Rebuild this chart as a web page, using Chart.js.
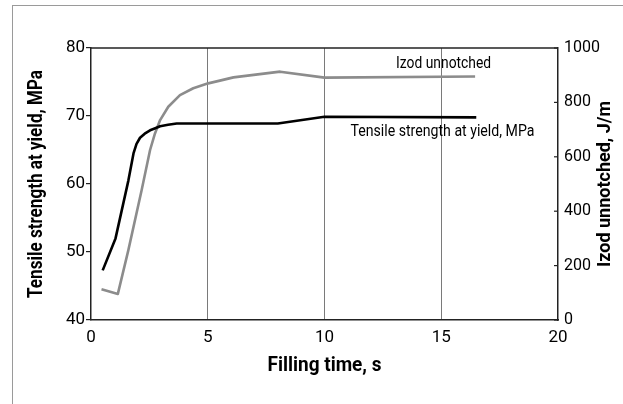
<!DOCTYPE html>
<html>
<head>
<meta charset="utf-8">
<script src="https://cdn.jsdelivr.net/npm/chart.js@4.4.0/dist/chart.umd.min.js"></script>
<style>
  html, body { margin: 0; padding: 0; background: #fff; }
  #wrap { position: relative; width: 623px; height: 404px; overflow: hidden; }
  #frame { position: absolute; left: 12px; top: 5px; width: 700px; height: 500px;
           border-top: 1.5px solid #9a9a9a; border-left: 1.5px solid #9a9a9a; }
  canvas { position: absolute; left: 0; top: 0; }
</style>
</head>
<body>
<div id="wrap">
  <div id="frame"></div>
  <canvas id="c" width="623" height="404"></canvas>
</div>
<script>
// ---- Data ----
const tensileTime = [0.5, 1.05, 1.6, 1.82, 1.95, 2.1, 2.3, 2.53, 2.75, 2.96, 3.3, 3.67, 4.2, 8.0, 10.0, 16.5];
const tensileMPa  = [47.3, 52.0, 60.5, 64.5, 65.9, 66.8, 67.4, 67.9, 68.2, 68.5, 68.7, 68.9, 68.9, 68.9, 69.9, 69.8];

const izodTime = [0.45, 1.15, 1.6, 2.17, 2.53, 2.74, 2.96, 3.31, 3.81, 4.38, 5.02, 5.52, 6.1, 8.1, 10.0, 16.45];
const izodJm   = [113, 96, 257, 478, 625, 686, 735, 784, 827, 852, 870, 880, 892, 913, 891, 895];

const xTicks = [0, 5, 10, 15, 20];
const leftTicks = [40, 50, 60, 70, 80];
const rightTicks = [0, 200, 400, 600, 800, 1000];

const xTitle = "Filling time, s";
const leftTitle = "Tensile strength at yield, MPa";
const rightTitle = "Izod unnotched, J/m";
const izodLabel = "Izod unnotched";
const tensileLabel = "Tensile strength at yield, MPa";

const FONT = "Roboto, 'Liberation Sans', sans-serif";

const tensileData = tensileTime.map((t, i) => ({ x: t, y: tensileMPa[i] }));
const izodData = izodTime.map((t, i) => ({ x: t, y: izodJm[i] }));

function condensed(ctx, text, x, y, maxW) {
  const w = ctx.measureText(text).width;
  ctx.fillText(text, x, y, Math.min(w, maxW));
}

const decor = {
  id: 'decor',
  afterDraw(chart) {
    const ctx = chart.ctx;
    const a = chart.chartArea;
    const xs = chart.scales.x, yl = chart.scales.y, yr = chart.scales.y2;
    ctx.save();
    // top frame line
    ctx.strokeStyle = '#222';
    ctx.lineWidth = 1.5;
    ctx.beginPath();
    ctx.moveTo(a.left, a.top);
    ctx.lineTo(a.right, a.top);
    ctx.stroke();
    // inward ticks on right axis
    ctx.lineWidth = 1.2;
    rightTicks.forEach(v => {
      const py = yr.getPixelForValue(v);
      ctx.beginPath();
      ctx.moveTo(a.right - 4, py);
      ctx.lineTo(a.right, py);
      ctx.stroke();
    });
    // axis titles
    ctx.fillStyle = '#000';
    ctx.font = "bold 20px " + FONT;
    ctx.textAlign = 'center';
    ctx.textBaseline = 'middle';
    condensed(ctx, xTitle, (a.left + a.right) / 2, 366, 114);
    ctx.save();
    ctx.translate(37, (a.top + a.bottom) / 2);
    ctx.rotate(-Math.PI / 2);
    condensed(ctx, leftTitle, 0, 0, 228);
    ctx.restore();
    ctx.save();
    ctx.translate(605, (a.top + a.bottom) / 2);
    ctx.rotate(-Math.PI / 2);
    ctx.font = "bold 19px " + FONT;
    condensed(ctx, rightTitle, 0, 0, 166);
    ctx.restore();
    // in-plot series labels
    ctx.font = "16px " + FONT;
    condensed(ctx, izodLabel, xs.getPixelForValue(15.1), yr.getPixelForValue(940), 95);
    condensed(ctx, tensileLabel, xs.getPixelForValue(15.05), yl.getPixelForValue(67.6), 184);
    ctx.restore();
  }
};

new Chart(document.getElementById('c'), {
  type: 'line',
  data: {
    datasets: [
      { label: 'Tensile', data: tensileData, yAxisID: 'y', borderColor: '#000', borderWidth: 2.6,
        pointRadius: 0, tension: 0, fill: false, borderJoinStyle: 'round' },
      { label: 'Izod', data: izodData, yAxisID: 'y2', borderColor: '#8c8c8c', borderWidth: 2.6,
        pointRadius: 0, tension: 0, fill: false, borderJoinStyle: 'round' }
    ]
  },
  options: {
    responsive: false,
    animation: false,
    devicePixelRatio: 1,
    layout: { padding: { top: 48, left: 0, right: 0, bottom: 0 } },
    plugins: { legend: { display: false }, tooltip: { enabled: false } },
    scales: {
      x: {
        type: 'linear', min: 0, max: 20,
        afterBuildTicks: s => { s.ticks = xTicks.map(v => ({ value: v })); },
        afterFit: s => { s.height = 84; },
        border: { display: true, color: '#222', width: 1.5 },
        grid: {
          drawTicks: false,
          color: c => (c.tick && (c.tick.value === 0 || c.tick.value === 20)) ? 'rgba(0,0,0,0)' : '#7a7a7a',
          lineWidth: 1
        },
        ticks: { color: '#000', font: { family: FONT, size: 17 }, padding: 8, maxRotation: 0,
                 callback: v => String(v) }
      },
      y: {
        type: 'linear', position: 'left', min: 40, max: 80,
        afterBuildTicks: s => { s.ticks = leftTicks.map(v => ({ value: v })); },
        afterFit: s => { s.width = 91; },
        border: { display: true, color: '#222', width: 1.5 },
        grid: { drawOnChartArea: false, drawTicks: true, tickLength: 5, color: '#222', lineWidth: 1.2 },
        ticks: { color: '#000', font: { family: FONT, size: 17 }, padding: 1, callback: v => String(v) }
      },
      y2: {
        type: 'linear', position: 'right', min: 0, max: 1000,
        afterBuildTicks: s => { s.ticks = rightTicks.map(v => ({ value: v })); },
        afterFit: s => { s.width = 65; },
        border: { display: true, color: '#222', width: 1.5 },
        grid: { drawOnChartArea: false, drawTicks: false },
        ticks: { color: '#000', font: { family: FONT, size: 16 }, padding: 6, callback: v => String(v) }
      }
    }
  },
  plugins: [decor]
});
</script>
</body>
</html>
